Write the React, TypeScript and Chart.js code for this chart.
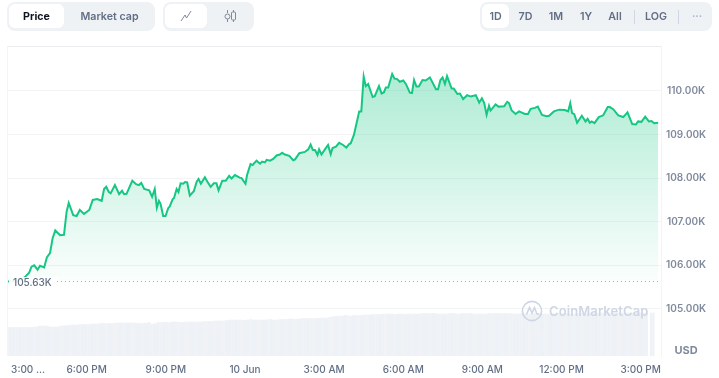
import React, { useEffect, useRef } from "react";
import { Chart, registerables } from "chart.js";

Chart.register(...registerables);

// hours since 3:00 PM
const hours = [
  0.02,0.24,0.47,0.66,0.82,0.91,1.01,1.14,1.23,1.39,1.49,1.61,1.71,1.81,1.99,2.14,2.24,2.32,2.49,2.62,
  2.74,2.90,3.10,3.23,3.40,3.57,3.66,3.74,3.84,3.91,4.07,4.23,4.34,4.42,4.51,4.73,4.87,4.98,5.07,5.18,
  5.37,5.48,5.58,5.66,5.74,5.80,5.90,5.99,6.09,6.15,6.26,6.31,6.41,6.48,6.56,6.66,6.73,6.81,6.91,7.06,
  7.17,7.24,7.33,7.48,7.57,7.70,7.82,7.92,8.00,8.14,8.27,8.40,8.49,8.62,8.80,8.87,9.02,9.08,9.21,9.29,
  9.44,9.57,9.65,9.76,9.82,9.95,10.07,10.20,10.32,10.41,10.51,10.68,10.83,10.90,11.06,11.27,11.40,11.49,11.57,11.66,
  11.75,11.81,11.90,12.09,12.15,12.25,12.32,12.45,12.57,12.72,12.84,12.95,13.01,13.13,13.23,13.33,13.41,13.50,13.58,13.67,
  13.84,13.92,14.08,14.18,14.27,14.34,14.43,14.58,14.67,14.77,14.87,15.00,15.10,15.25,15.33,15.41,15.50,15.59,15.73,15.85,
  16.01,16.24,16.32,16.41,16.49,16.58,16.66,16.83,16.92,17.05,17.15,17.27,17.42,17.56,17.75,17.88,17.98,18.07,18.16,18.25,
  18.31,18.50,18.61,18.83,18.94,19.01,19.11,19.26,19.39,19.61,19.73,19.83,19.99,20.10,20.26,20.43,20.53,20.71,20.91,21.13,
  21.25,21.33,21.40,21.48,21.59,21.77,21.91,21.99,22.07,22.14,22.25,22.41,22.58,22.75,22.83,22.96,23.15,23.34,23.50,23.68,
  23.82,23.90,24.03,24.17,24.31,24.41,24.51,24.66,
];

const prices = [
  105.63,105.64,105.65,105.73,105.83,105.97,106.00,105.90,105.99,105.95,106.18,106.28,106.62,106.80,106.69,106.70,107.23,107.43,107.15,107.13,
  107.27,107.18,107.27,107.50,107.52,107.48,107.75,107.80,107.68,107.65,107.84,107.63,107.71,107.63,107.64,107.94,107.86,107.84,107.89,107.75,
  107.72,107.57,107.75,107.32,107.48,107.41,107.13,107.13,107.31,107.35,107.52,107.54,107.75,107.68,107.88,107.87,107.91,107.90,107.60,107.70,
  107.92,107.98,107.87,108.02,107.92,107.80,107.88,107.88,107.72,107.94,107.94,108.05,107.99,108.07,108.01,108.00,107.87,108.07,108.32,108.30,
  108.40,108.33,108.38,108.36,108.42,108.40,108.44,108.52,108.54,108.58,108.54,108.51,108.41,108.43,108.57,108.60,108.66,108.77,108.65,108.64,
  108.53,108.66,108.54,108.71,108.76,108.55,108.69,108.72,108.81,108.76,108.70,108.78,108.80,108.99,109.26,109.53,109.53,110.33,110.11,110.16,
  109.86,109.88,110.11,109.94,109.97,110.08,110.08,110.39,110.28,110.27,110.21,110.24,110.16,109.96,109.95,110.25,110.10,110.10,110.25,110.24,
  110.31,110.04,110.04,110.25,110.31,110.16,110.34,110.06,110.05,109.93,109.94,109.81,109.90,109.87,109.90,109.73,109.83,109.72,109.45,109.66,
  109.55,109.69,109.64,109.65,109.75,109.72,109.55,109.47,109.53,109.47,109.47,109.59,109.61,109.64,109.45,109.42,109.43,109.53,109.57,109.56,
  109.53,109.72,109.49,109.47,109.27,109.43,109.30,109.36,109.27,109.30,109.26,109.40,109.44,109.63,109.63,109.58,109.44,109.40,109.51,109.24,
  109.23,109.30,109.29,109.41,109.30,109.31,109.26,109.27,
];

// traded volume, billions of USD, one bar per 5 minutes
const volumes: (number | null)[] = [
  57,57,57,57,57,57,57,57,57,57,57,57,58,58,60,60,60,60,59,58,
  58,58,58,59,60,60,61,61,62,62,62,62,63,63,63,63,63,64,64,64,
  64,65,65,65,65,65,65,65,66,66,66,66,66,66,66,66,66,66,65,65,
  65,66,66,67,64,64,65,67,67,67,68,67,67,68,68,68,68,67,67,68,
  68,68,68,68,68,68,68,69,69,69,69,69,70,70,70,70,70,71,71,72,
  72,72,72,72,72,71,72,72,73,72,72,72,72,72,72,72,73,73,72,72,
  72,73,73,73,73,74,74,74,73,74,74,75,75,75,75,75,75,75,75,76,
  76,76,76,77,78,79,79,80,80,80,81,81,80,80,81,81,81,81,82,82,
  82,82,83,83,83,83,83,84,84,84,84,84,83,83,84,84,84,83,84,84,
  84,84,84,84,85,85,85,85,85,85,85,84,84,84,84,84,85,85,85,85,
  84,84,85,85,85,85,85,84,84,84,84,84,84,84,85,85,85,85,85,85,
  85,85,85,85,85,84,84,84,85,85,84,84,84,85,85,85,85,85,84,84,
  84,84,84,85,85,85,85,85,85,85,84,84,84,84,85,85,85,85,85,85,
  85,85,85,85,86,86,86,86,86,86,86,86,86,86,86,86,86,86,86,86,
  86,86,86,86,86,null,86,86,
];

const xTickHours = [0.78, 3, 6, 9, 12, 15, 18, 21, 24];
const xTickLabels = ["3:00 ...", "6:00 PM", "9:00 PM", "10 Jun", "3:00 AM", "6:00 AM", "9:00 AM", "12:00 PM", "3:00 PM"];
const priceTicks = [105, 106, 107, 108, 109, 110];
const baselinePrice = 105.63;
const baselineLabel = "105.63K";
const unitLabel = "USD";
const priceMin = 103.92;
const priceMax = 111.03;
const unitTickValue = 104.05;
const hourMin = -0.02;
const hourMax = 24.77;
const volumeMax = 620;
const volumeStepHours = 0.0853;
const rangeTabs = ["1D", "7D", "1M", "1Y", "All"];

const FONT = "Inter, 'Noto Sans', sans-serif";
const GRID = "#f3f4f6";
const GREEN = "#16c784";

const baselinePlugin = {
  id: "baseline",
  afterDatasetsDraw(chart: any) {
    const { ctx, chartArea, scales } = chart;
    const y = Math.round(scales.y.getPixelForValue(baselinePrice)) + 0.5;
    ctx.save();
    ctx.fillStyle = "rgba(255,255,255,0.92)";
    ctx.fillRect(chartArea.left + 2, y - 4.5, 48, 12);
    ctx.strokeStyle = "#a6b0c3";
    ctx.lineWidth = 1;
    ctx.setLineDash([1, 3]);
    ctx.beginPath();
    ctx.moveTo(chartArea.left + 50, y);
    ctx.lineTo(chartArea.right, y);
    ctx.stroke();
    ctx.setLineDash([]);
    ctx.fillStyle = "#616e85";
    ctx.font = `500 10px ${FONT}`;
    ctx.textAlign = "left";
    ctx.textBaseline = "middle";
    ctx.fillText(baselineLabel, chartArea.left + 6, y + 1.5);
    ctx.restore();
  },
};

const Pill = ({ left, width, children, active, color, weight = 600 }: any) => (
  <div
    style={{
      position: "absolute",
      left,
      top: 4,
      width,
      height: 24,
      borderRadius: 6,
      background: active ? "#fff" : "transparent",
      color: color || "#616e85",
      font: `${weight} 10.7px ${FONT}`,
      display: "flex",
      alignItems: "center",
      justifyContent: "center",
      whiteSpace: "nowrap",
    }}
  >
    {children}
  </div>
);

const Group = ({ left, width }: any) => (
  <div style={{ position: "absolute", left, top: 2, width, height: 29, borderRadius: 8, background: "#eff2f5" }} />
);

export default function App() {
  const ref = useRef<HTMLCanvasElement>(null);

  useEffect(() => {
    document.body.style.margin = "0";
    const ctx = ref.current!.getContext("2d")!;
    const gradient = ctx.createLinearGradient(0, 76, 0, 281);
    gradient.addColorStop(0, "rgba(22,199,132,0.34)");
    gradient.addColorStop(1, "rgba(22,199,132,0.02)");

    const chart = new Chart(ctx, {
      type: "line",
      data: {
        datasets: [
          {
            type: "line",
            data: hours.map((h, i) => ({ x: h, y: prices[i] })),
            borderColor: GREEN,
            borderWidth: 2,
            pointRadius: 0,
            tension: 0,
            fill: { value: baselinePrice },
            backgroundColor: gradient,
            yAxisID: "y",
            order: 1,
          },
          {
            type: "bar",
            data: volumes.map((v, i) => ({ x: i * volumeStepHours, y: v })),
            backgroundColor: "#eef1f5",
            barThickness: 1.7,
            yAxisID: "volume",
            order: 2,
          },
        ],
      } as any,
      options: {
        animation: false,
        responsive: false,
        events: [],
        layout: { padding: { left: 7, top: 46, right: 0, bottom: 0 } },
        plugins: { legend: { display: false }, tooltip: { enabled: false } },
        scales: {
          x: {
            type: "linear",
            offset: false,
            min: hourMin,
            max: hourMax,
            afterBuildTicks(axis: any) {
              axis.ticks = xTickHours.map((value) => ({ value }));
            },
            afterFit(axis: any) {
              axis.height = 22;
              axis.paddingLeft = 0;
              axis.paddingRight = 0;
            },
            grid: { display: false, drawTicks: false, offset: false },
            border: { display: false },
            ticks: {
              autoSkip: false,
              maxRotation: 0,
              padding: 8,
              color: "#616e85",
              font: { family: FONT, size: 10, weight: 500 },
              callback: (value: any) => xTickLabels[xTickHours.indexOf(value)] ?? "",
            },
          },
          y: {
            position: "right",
            min: priceMin,
            max: priceMax,
            afterBuildTicks(axis: any) {
              axis.ticks = [priceMax, ...priceTicks.slice().reverse(), unitTickValue].map((value) => ({ value }));
            },
            afterFit(axis: any) {
              axis.width = 58;
            },
            grid: {
              drawTicks: false,
              lineWidth: 1,
              color: (c: any) =>
                c.tick?.value === unitTickValue ? "transparent" : c.tick?.value === priceMax ? "#eaecef" : GRID,
            },
            border: { display: true, color: GRID, width: 1 },
            ticks: {
              autoSkip: false,
              padding: 5,
              crossAlign: "center",
              color: "#808a9d",
              font: (c: any) => ({
                family: FONT,
                size: c.tick?.value === unitTickValue ? 11 : 10,
                weight: c.tick?.value === unitTickValue ? 700 : 600,
              }),
              callback: (value: any) =>
                value === priceMax ? "" : value === unitTickValue ? unitLabel : `${Number(value).toFixed(2)}K`,
            },
          },
          volume: {
            display: false,
            position: "left",
            min: 0,
            max: volumeMax,
            grid: { display: false },
          },
        },
      } as any,
      plugins: [baselinePlugin],
    });
    return () => chart.destroy();
  }, []);

  return (
    <div style={{ position: "relative", width: 719, height: 378, overflow: "hidden", background: "#fff" }}>
      <canvas ref={ref} width={719} height={378} style={{ position: "absolute", left: 0, top: 0, display: "block" }} />
      <div style={{ position: "absolute", left: 7, top: 46, width: 1, height: 310, background: GRID }} />

      <Group left={7} width={148} />
      <Pill left={9} width={55} active color="#0d1421" weight={700}>Price</Pill>
      <Pill left={66} width={87}>Market cap</Pill>

      <Group left={163} width={91} />
      <Pill left={165} width={42} active>
        <svg width="12" height="12" viewBox="0 0 12 12" fill="none" stroke="#808a9d" strokeWidth="1">
          <path d="M1 11 L5 5 L6.5 8 L11 1" />
        </svg>
      </Pill>
      <Pill left={209} width={43}>
        <svg width="13" height="12" viewBox="0 0 13 12" fill="none" stroke="#808a9d" strokeWidth="1">
          <path d="M3.5 0 V3 M3.5 9 V12 M9.5 0 V2 M9.5 10 V12" />
          <circle cx="3.5" cy="6.5" r="2.5" />
          <rect x="7.5" y="2" width="4" height="8" rx="1" />
        </svg>
      </Pill>

      <Group left={480} width={232} />
      {rangeTabs.map((t, i) => (
        <Pill key={t} left={[482, 512, 542, 572, 601][i]} width={[27, 27, 28, 28, 28][i]} active={i === 0}>
          {t}
        </Pill>
      ))}
      <div style={{ position: "absolute", left: 634, top: 10, width: 1, height: 14, background: "#cfd6e4" }} />
      <Pill left={638} width={36}>LOG</Pill>
      <div style={{ position: "absolute", left: 678, top: 10, width: 1, height: 14, background: "#cfd6e4" }} />
      <Pill left={684} width={26} color="#a6b0c3">···</Pill>

      <div style={{ position: "absolute", left: 521, top: 300, width: 150, height: 22, display: "flex", alignItems: "center", pointerEvents: "none" }}>
        <svg width="22" height="22" viewBox="0 0 22 22" fill="none" stroke="#cfd6e4" strokeWidth="1.6" style={{ flex: "none" }}>
          <circle cx="11" cy="11" r="9.6" />
          <path d="M5.5 14.5 L8.5 7.5 L11 13 L13.5 7.5 L15.5 13 Q16.5 15 18 13.5" />
        </svg>
        <span style={{ marginLeft: 6, font: `600 13px ${FONT}`, letterSpacing: 0.1, color: "#cfd6e4" }}>CoinMarketCap</span>
      </div>
    </div>
  );
}
